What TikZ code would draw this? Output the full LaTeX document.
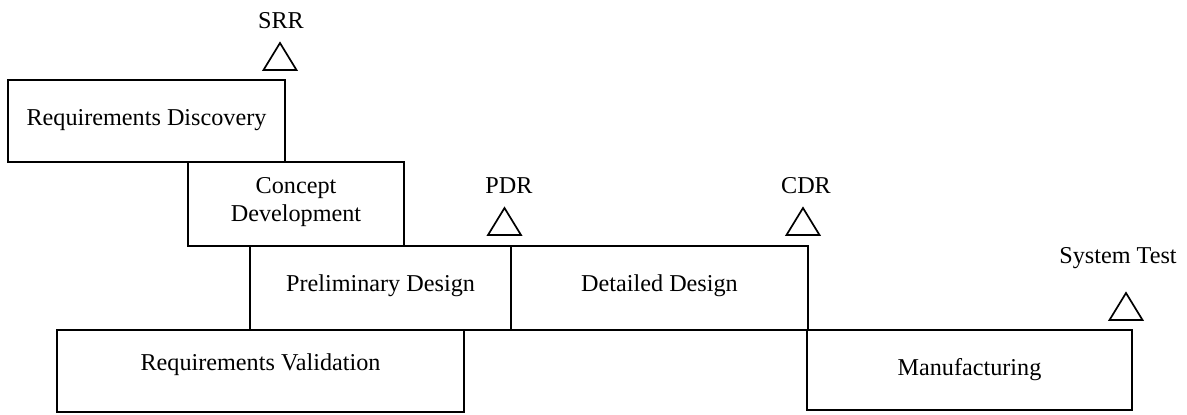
\documentclass[tikz,border=0pt]{standalone}
\usepackage{fontspec}
\setmainfont{Liberation Serif}
\begin{document}
\begin{tikzpicture}[x=1pt,y=-1pt,
  box/.style={draw=black,line width=1.7pt,rectangle,inner sep=0pt,outer sep=0pt},
  txt/.style={anchor=base,inner sep=0pt,font=\fontsize{24.2}{28.5}\selectfont},
  mile/.style={draw=black,line width=1.7pt,line join=miter}]
\useasboundingbox (0,0) rectangle (1187,415);
% boxes
\node[box,minimum width=277pt,minimum height=82pt] (rd) at (146.5,121) {};
\node[box,minimum width=216pt,minimum height=84pt] (cd) at (296,204) {};
\node[box,minimum width=261pt,minimum height=84pt] (pd) at (380.5,288) {};
\node[box,minimum width=297pt,minimum height=84pt] (dd) at (659.5,288) {};
\node[box,minimum width=407pt,minimum height=82pt] (rv) at (260.5,371) {};
\node[box,minimum width=325pt,minimum height=80pt] (mf) at (969.5,370) {};
% box texts
\node[txt] (rdt) at (146.5,125) {Requirements Discovery};
\node[txt] (cdt1) at (296,193) {Concept};
\node[txt] (cdt2) at (296,221.5) {Development};
\node[txt] (pdt) at (380.5,291) {Preliminary Design};
\node[txt] (ddt) at (659.5,291) {Detailed Design};
\node[txt] (rvt) at (260.5,370) {Requirements Validation};
\node[txt] (mft) at (969.5,375) {Manufacturing};
% milestone labels
\node[txt] (srr) at (281,28) {SRR};
\node[txt] (pdr) at (509,193) {PDR};
\node[txt] (cdr) at (806,193) {CDR};
\node[txt] (st) at (1118,263) {System Test};
% milestone triangles
\coordinate (srrtri) at (280,43);
\coordinate (pdrtri) at (504.5,208);
\coordinate (cdrtri) at (803,208);
\coordinate (sttri) at (1126,293);
\foreach \c in {srrtri,pdrtri,cdrtri,sttri}{
  \draw[mile] (\c) -- ++(16.5,27) -- ++(-33,0) -- cycle;
}
\end{tikzpicture}
\end{document}
